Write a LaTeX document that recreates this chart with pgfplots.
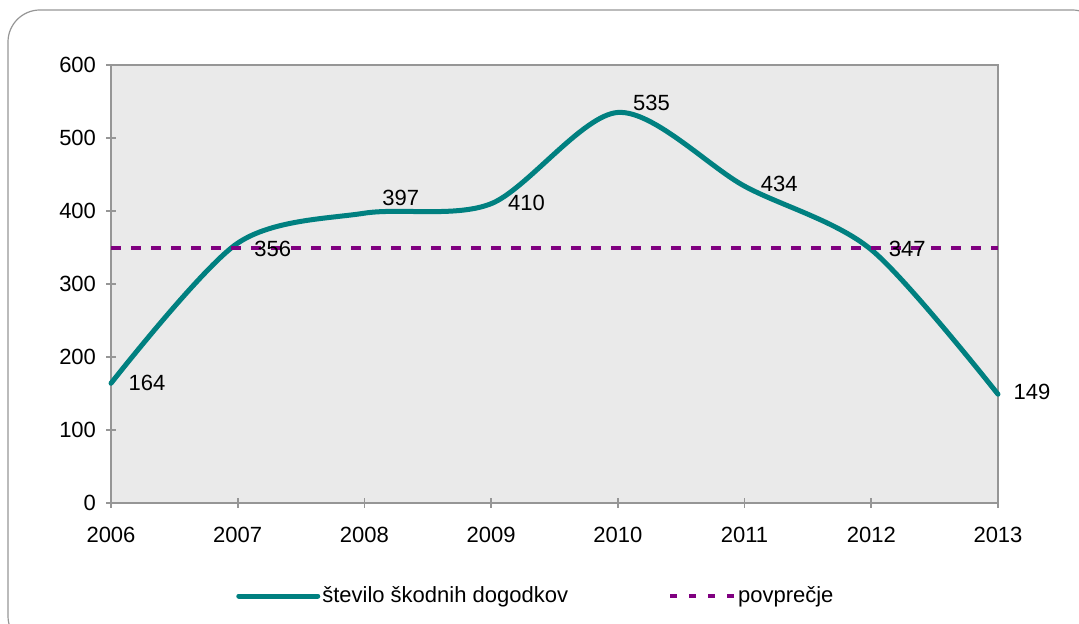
\documentclass[border=0pt]{standalone}
\usepackage{fontspec}
\setmainfont{Liberation Sans}
\usepackage{pgfplots}
\pgfplotsset{compat=1.18}
\definecolor{tealline}{RGB}{0,128,128}
\definecolor{purp}{RGB}{128,0,128}
\definecolor{bg}{RGB}{234,234,234}
\definecolor{axg}{RGB}{150,150,150}
\pgfplotsset{
  tealleg/.style={legend image code/.code={\draw[##1, line width=2.5pt, line cap=round] (0pt,0pt) -- (39.5pt,0pt);}},
  purpleg/.style={legend image code/.code={\draw[##1, dash pattern=on 3.5pt off 6pt] (0pt,0pt) -- (32pt,0pt);}},
}
\begin{document}
\begin{tikzpicture}
\useasboundingbox (0,0) rectangle (539.5pt,312pt);
\draw[color=axg, line width=0.6pt, rounded corners=16pt] (4pt,-12pt) rectangle (552pt,307pt);
\begin{axis}[
  at={(55.5pt,60.5pt)}, anchor=south west,
  scale only axis, width=443.5pt, height=219pt,
  xmin=2006, xmax=2013, ymin=0, ymax=600,
  xtick={2006,2007,2008,2009,2010,2011,2012,2013},
  ytick={0,100,200,300,400,500,600},
  xtick pos=bottom, ytick pos=left,
  axis background/.style={fill=bg},
  axis line style={axg, line width=1pt},
  tick style={axg, line width=0.8pt},
  tick align=center, major tick length=5pt,
  /pgf/number format/assume math mode=true,
  /pgf/number format/1000 sep={},
  ticklabel style={font=\fontsize{11}{13}\selectfont, text=black},
  yticklabel style={xshift=-1.5pt},
  xticklabel style={yshift=-6pt},
  clip=false,
  legend columns=2,
  legend cell align=left,
  legend style={at={(0.479,-0.2124)}, anchor=center, draw=none, fill=none,
    font=\fontsize{11}{13}\selectfont, nodes={inner sep=1pt},
    /tikz/every even column/.append style={column sep=49pt}},
]
\addplot[color=tealline, line width=2.5pt, smooth, tension=0.5, line cap=round, tealleg]
  coordinates {(2006,164) (2007,356) (2008,397) (2009,410) (2010,535) (2011,434) (2012,347) (2013,149)};
\addlegendentry{število škodnih dogodkov}
\addplot[color=purp, line width=2pt, dash pattern=on 5pt off 5pt, purpleg]
  coordinates {(2006,349) (2013,349)};
\addlegendentry{povprečje}
\begin{scope}[every node/.style={font=\fontsize{11}{13}\selectfont, inner sep=0pt, anchor=center}]
\node at (axis cs:2006.284,164.4) {164};
\node at (axis cs:2007.277,348) {356};
\node at (axis cs:2008.286,417.8) {397};
\node at (axis cs:2009.279,411) {410};
\node at (axis cs:2010.265,548) {535};
\node at (axis cs:2011.274,437) {434};
\node at (axis cs:2012.283,348) {347};
\node at (axis cs:2013.268,152) {149};
\end{scope}
\end{axis}
\end{tikzpicture}
\end{document}
